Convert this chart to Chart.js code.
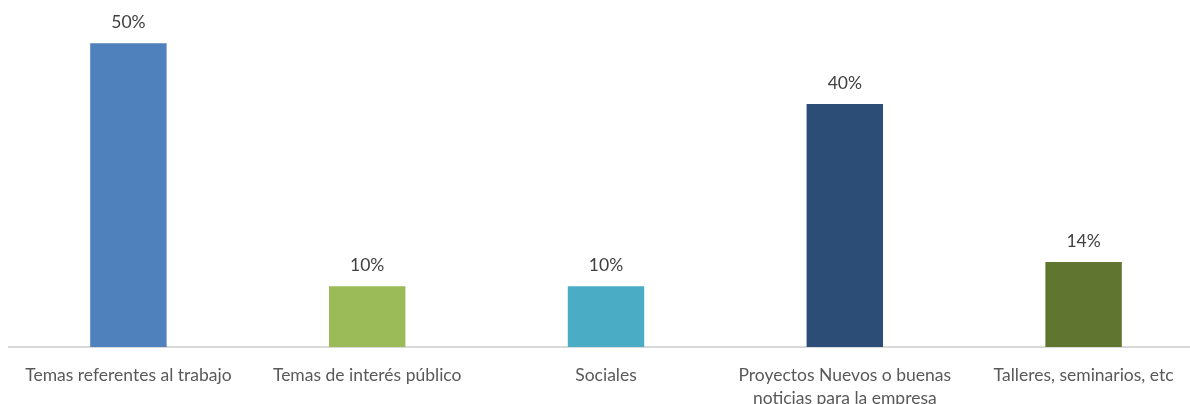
<!DOCTYPE html>
<html>
<head>
<meta charset="utf-8">
<script src="https://cdn.jsdelivr.net/npm/chart.js@4/dist/chart.umd.min.js"></script>
<style>
    html, body { margin: 0; padding: 0; background: #fff; overflow: hidden; }
    #wrap { position: relative; width: 1203px; height: 404px; }
</style>
</head>
<body>
<div id="wrap"><canvas id="chart"></canvas></div>
<script>
const categories = [
    "Temas referentes al trabajo",
    "Temas de interés público",
    "Sociales",
    ["Proyectos Nuevos o buenas", "noticias para la empresa"],
    "Talleres, seminarios, etc"
];
const values = [50, 10, 10, 40, 14];
const barColors = ["#4f81bd", "#9bbb59", "#4bacc6", "#2c4d75", "#5f7530"];

// percent labels above each bar
const valueLabels = {
    id: "valueLabels",
    afterDatasetsDraw(chart) {
        const ctx = chart.ctx;
        const meta = chart.getDatasetMeta(0);
        ctx.save();
        ctx.font = "17.5px Lato, 'Liberation Sans', sans-serif";
        ctx.fillStyle = "#404040";
        ctx.textAlign = "center";
        ctx.textBaseline = "middle";
        meta.data.forEach((bar, i) => {
            ctx.fillText(values[i] + "%", bar.x, bar.y - 21);
        });
        ctx.restore();
    }
};

const ctx = document.getElementById("chart").getContext("2d");

new Chart(ctx, {
    type: "bar",
    data: {
        labels: categories,
        datasets: [{
            data: values,
            backgroundColor: barColors,
            borderWidth: 0,
            categoryPercentage: 1,
            barPercentage: 0.32
        }]
    },
    options: {
        responsive: true,
        maintainAspectRatio: false,
        animation: false,
        layout: {
            padding: { top: 13, left: 9, right: 0, bottom: 0 }
        },
        scales: {
            x: {
                grid: { display: false, drawTicks: false },
                border: { display: true, color: "#d9d9d9", width: 2 },
                ticks: {
                    color: "#595959",
                    font: { family: "Lato, 'Liberation Sans', sans-serif", size: 17.5, lineHeight: 1.3 },
                    padding: 17,
                    maxRotation: 0,
                    autoSkip: false
                },
                afterFit(scale) {
                    scale.height = 57;
                }
            },
            y: {
                display: false,
                min: 0,
                max: 55
            }
        },
        plugins: {
            legend: { display: false },
            tooltip: { enabled: false }
        }
    },
    plugins: [valueLabels]
});
</script>
</body>
</html>
